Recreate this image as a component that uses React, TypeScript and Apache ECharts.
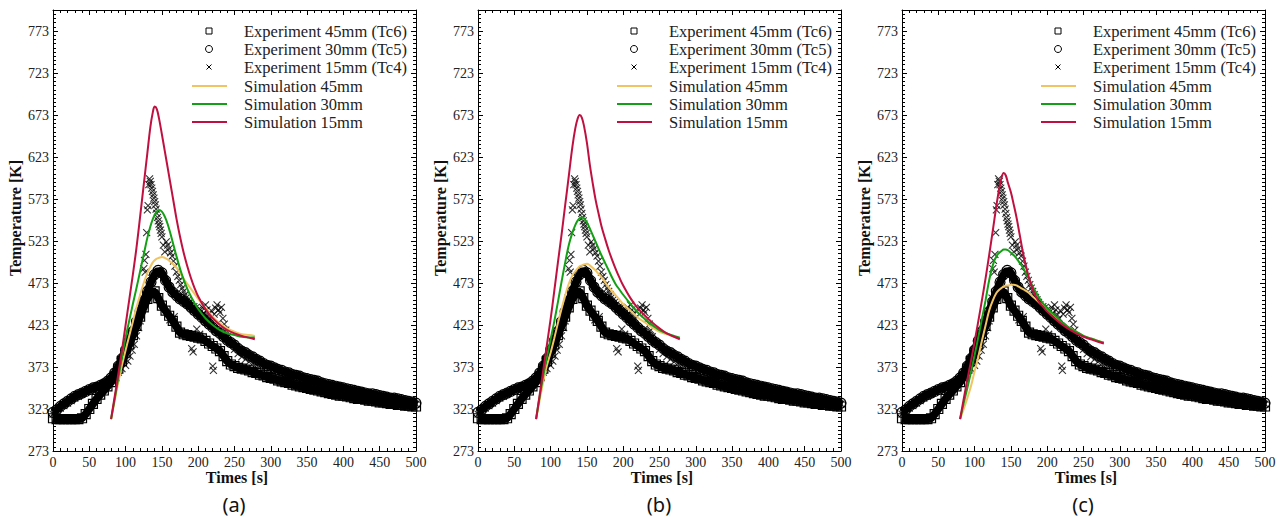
import React, { useEffect, useRef } from "react";
import * as echarts from "echarts";

// ---------- data (temperatures in K, times in s) ----------
const expTime = [0,5,10,15,20,25,30,35,40,45,50,55,60,65,70,75,80,85,90,95,100,105,110,115,120,125,130,135,140,145,150,155,160,165,170,175,180,185,190,195,200,205,210,215,220,225,230,235,240,245,250,255,260,265,270,275,280,285,290,295,300,305,310,315,320,325,330,335,340,345,350,355,360,365,370,375,380,385,390,395,400,405,410,415,420,425,430,435,440,445,450,455,460,465,470,475,480,485,490,495,500];

const tc6 = [312,311,311,311,311,311,311,311,312,317,
  323,329,335,340,345,350,355,362,371,380,
  390,400,411,422,433,444,454,461,463,455,
  446,440,434,428,421,414,412,411,410,409,
  408,407,404,401,398,395,392,386,380,376,
  374,372,371,370,369,367,366,364,363,361,
  360,359,357,356,355,354,352,351,350,349,
  348,347,346,345,344,343,342,341,340,339,
  339,338,337,336,335,335,334,333,333,332,
  331,331,330,329,329,328,328,327,327,326,
  326];

const tc5 = [319,322,326,329,332,335,338,340,342,344,
  346,348,349,351,353,356,360,366,374,383,
  393,404,415,427,439,451,463,474,483,488,
  485,476,468,462,458,454,451,448,444,440,
  436,432,428,424,420,416,413,409,405,402,
  399,395,392,390,387,385,382,380,377,375,
  374,372,370,369,367,366,364,363,362,360,
  359,358,357,356,354,353,352,351,350,349,
  348,347,346,345,344,343,342,341,341,340,
  339,338,337,336,336,335,334,333,332,331,
  330];

const tc4Time = [0,5,10,15,20,25,30,35,40,45,
  50,55,60,65,70,75,80,85,90,95,
  100,103,106,109,112,115,118,120,122,124,
  125,126,127,128,129,130,131,132,133,134,
  135,136,137,138,139,140,141,142,143,144,
  145,146,147,148,149,150,152,154,156,158,
  160,161,162,164,166,167,168,170,172,174,
  176,178,180,182,184,186,188,190,191,193,
  194,196,198,200,202,204,206,208,210,212,
  214,216,218,220,221,222,224,226,228,230,
  232,234,236,238,240,245,250,255,260,265,
  270,275,280,290,300,310,320,330,340,350,
  360,370,380,390,400,410,420,430,440,450,
  460,470,480,490,500];

const tc4 = [317,320,324,327,330,333,336,338,341,343,
  345,347,348,350,352,355,358,362,367,371,
  375,380,386,393,400,410,420,428,440,455,
  490,500,486,507,533,560,565,590,597,594,
  590,586,582,578,574,570,566,561,556,551,
  547,543,540,536,532,528,518,510,522,518,
  514,429,509,505,499,433,493,486,481,476,
  471,467,463,459,456,453,450,447,395,391,
  445,443,418,441,412,439,444,437,447,441,
  435,430,440,374,369,436,443,447,441,438,
  444,431,424,417,409,401,394,389,385,382,
  379,377,375,371,368,365,362,360,357,355,
  352,350,348,346,344,342,341,339,338,336,
  335,334,333,331,329];

const simTime = [80,85,90,95,100,105,110,115,120,125,130,134,137,140,143,146,150,154,158,162,166,170,175,180,185,190,195,200,210,220,230,240,250,260,270,278];

const sim15a = [311,338,365,393,423,453,483,515,552,590,628,658,674,683,680,669,650,630,610,590,570,550,528,509,493,479,467,457,442,431,423,417,413,410,408,406];
const sim30a = [311,335,360,385,408,428,448,467,487,507,527,540,548,554,558,560,558,552,543,531,518,505,490,477,466,457,449,442,431,423,417,413,411,409,408,408];
const sim45a = [311,333,355,375,393,410,427,444,459,473,485,492,497,500,502,503,504,503,501,498,495,491,485,478,472,466,460,454,443,433,425,419,415,412,411,410];

const sim15b = [311,340,370,400,430,463,497,530,565,600,635,657,668,673,670,660,640,614,592,572,556,541,526,512,500,489,479,470,455,443,434,426,419,413,409,406];
const sim30b = [311,338,363,385,406,427,450,474,497,518,533,542,547,550,551,550,545,538,530,522,514,506,497,488,479,471,465,459,448,438,430,423,417,413,410,408];
const sim45b = [311,334,356,375,390,407,425,442,458,472,482,487,490,493,494,495,496,494,491,488,484,480,474,468,463,458,453,448,440,432,426,420,415,412,409,407];

const sim15c = [311,335,358,380,403,427,452,478,506,535,565,586,598,604,601,592,581,566,550,531,512,496,479,466,456,449,444,439,431,424,418,413,409,406,403,401];
const sim30c = [311,330,348,367,387,408,430,452,476,494,505,509,511,513,513,512,509,506,502,497,492,486,478,469,461,454,448,443,435,427,420,415,410,407,404,402];
const sim45c = [311,323,336,350,368,385,404,422,440,452,461,465,467,469,470,470,471,471,470,468,466,464,461,457,453,449,445,441,434,426,420,415,410,407,404,402];

const expNames = ["Experiment 45mm (Tc6)", "Experiment 30mm (Tc5)", "Experiment 15mm (Tc4)"];
const simNames = ["Simulation 45mm", "Simulation 30mm", "Simulation 15mm"];
const panelLabels = ["(a)", "(b)", "(c)"];
const xAxisTitle = "Times [s]";
const yAxisTitle = "Temperature [K]";

const simPanels = [
  [sim45a, sim30a, sim15a],
  [sim45b, sim30b, sim15b],
  [sim45c, sim30c, sim15c],
];

// ---------- layout / style ----------
const BASE = 273; // y axis starts at 273 K
const Y_SPAN = 525;
const PANEL_LEFTS = [53, 478, 902];
const GRID_TOP = 10;
const GRID_W = 363;
const GRID_H = 441;
const simColors = ["#F0C462", "#14A014", "#C0103F"];
const SERIF = "Liberation Serif, Times New Roman, serif";
const SANS = "Noto Sans, Open Sans, sans-serif";
const XMARK = "path://M0,0L10,10M10,0L0,10";

function buildOption() {
  const grid: any[] = [];
  const xAxis: any[] = [];
  const yAxis: any[] = [];
  const series: any[] = [];
  const graphic: any[] = [];

  PANEL_LEFTS.forEach((L, i) => {
    grid.push({ left: L, top: GRID_TOP, width: GRID_W, height: GRID_H });
    ["bottom", "top"].forEach((pos) => {
      xAxis.push({
        type: "value", gridIndex: i, position: pos, min: 0, max: 500, interval: 50,
        axisLine: { show: true, onZero: false, lineStyle: { color: "#000", width: 1 } },
        axisTick: { show: true, inside: true, length: 5, lineStyle: { color: "#000", width: 1 } },
        minorTick: { show: true, splitNumber: 5, length: 3, lineStyle: { color: "#000", width: 1 } },
        splitLine: { show: false },
        minorSplitLine: { show: false },
        axisLabel: { show: pos === "bottom", fontFamily: SERIF, fontSize: 14, color: "#222", margin: 4 },
      });
    });
    ["left", "right"].forEach((pos) => {
      yAxis.push({
        type: "value", gridIndex: i, position: pos, min: 0, max: Y_SPAN, interval: 5,
        axisLine: { show: true, onZero: false, lineStyle: { color: "#000", width: 1 } },
        axisTick: { show: true, inside: true, length: 3, lineStyle: { color: "#000", width: 1 } },
        axisLabel: { show: false },
        splitLine: { show: false },
      });
      yAxis.push({
        type: "value", gridIndex: i, position: pos, min: 0, max: Y_SPAN, interval: 50,
        axisLine: { show: false, onZero: false },
        axisTick: { show: true, inside: true, length: 5, lineStyle: { color: "#000", width: 1 } },
        axisLabel: {
          show: pos === "left", showMaxLabel: false, fontFamily: SERIF, fontSize: 14,
          color: "#222", margin: 4, formatter: (v: number) => String(v + BASE),
        },
        splitLine: { show: false },
      });
    });

    const xi = 2 * i;
    const yi = 4 * i + 1;
    const hollow = { color: "rgba(0,0,0,0)", borderColor: "#000", borderWidth: 1.2 };

    series.push({
      type: "line", name: expNames[0], xAxisIndex: xi, yAxisIndex: yi, silent: true,
      data: expTime.map((t, k) => [t, tc6[k] - BASE]),
      symbol: "rect", symbolSize: 9, showSymbol: true,
      lineStyle: { color: "#000", width: 8 }, itemStyle: hollow, z: 2,
    });
    series.push({
      type: "line", name: expNames[1], xAxisIndex: xi, yAxisIndex: yi, silent: true,
      data: expTime.map((t, k) => [t, tc5[k] - BASE]),
      symbol: "circle", symbolSize: 10, showSymbol: true,
      lineStyle: { color: "#000", width: 8 }, itemStyle: hollow, z: 2,
    });
    series.push({
      type: "scatter", name: expNames[2], xAxisIndex: xi, yAxisIndex: yi, silent: true,
      data: tc4Time.map((t, k) => [t, tc4[k] - BASE]),
      symbol: XMARK, symbolSize: 7,
      itemStyle: { color: "rgba(0,0,0,0)", borderColor: "#000", borderWidth: 1.1 }, z: 3,
    });
    simPanels[i].forEach((vals, s) => {
      series.push({
        type: "line", name: simNames[s], xAxisIndex: xi, yAxisIndex: yi, silent: true,
        data: simTime.map((t, k) => [t, vals[k] - BASE]),
        showSymbol: false, smooth: 0.35,
        lineStyle: { color: simColors[s], width: 2 }, z: 4,
      });
    });

    // legend (drawn as graphic)
    const mx = L + 156;
    const rows = [31, 49, 67, 86, 104, 122];
    graphic.push({ type: "rect", shape: { x: mx - 3, y: rows[0] - 3, width: 6, height: 6 }, style: { fill: "none", stroke: "#000", lineWidth: 1 } });
    graphic.push({ type: "circle", shape: { cx: mx, cy: rows[1], r: 3.5 }, style: { fill: "none", stroke: "#000", lineWidth: 1 } });
    graphic.push({ type: "line", shape: { x1: mx - 2.5, y1: rows[2] - 2.5, x2: mx + 2.5, y2: rows[2] + 2.5 }, style: { stroke: "#000", lineWidth: 1 } });
    graphic.push({ type: "line", shape: { x1: mx + 2.5, y1: rows[2] - 2.5, x2: mx - 2.5, y2: rows[2] + 2.5 }, style: { stroke: "#000", lineWidth: 1 } });
    simNames.forEach((_, s) => {
      graphic.push({ type: "line", shape: { x1: L + 139, y1: rows[3 + s], x2: L + 174, y2: rows[3 + s] }, style: { stroke: simColors[s], lineWidth: 2 } });
    });
    [...expNames, ...simNames].forEach((nm, r) => {
      graphic.push({
        type: "text", x: L + 191, y: rows[r],
        style: { text: nm, fontFamily: SERIF, fontSize: 16.5, fill: "#222", align: "left", verticalAlign: "middle" },
      });
    });
    // axis titles
    graphic.push({
      type: "text", x: L - 38, y: 218, rotation: Math.PI / 2,
      style: { text: yAxisTitle, fontFamily: SERIF, fontSize: 16, fontWeight: "bold", fill: "#111", align: "center", verticalAlign: "middle" },
    });
    graphic.push({
      type: "text", x: L + 184, y: 477,
      style: { text: xAxisTitle, fontFamily: SERIF, fontSize: 16, fontWeight: "bold", fill: "#111", align: "center", verticalAlign: "middle" },
    });
    graphic.push({
      type: "text", x: L + 181, y: 504,
      style: { text: panelLabels[i], fontFamily: SANS, fontSize: 20, fill: "#111", align: "center", verticalAlign: "middle" },
    });
  });

  return {
    animation: false,
    backgroundColor: "#fff",
    grid, xAxis, yAxis, series, graphic,
  };
}

export default function App() {
  const ref = useRef<HTMLDivElement>(null);
  useEffect(() => {
    if (!ref.current) return;
    const chart = echarts.init(ref.current, undefined, { renderer: "svg" });
    chart.setOption(buildOption() as any);
    return () => chart.dispose();
  }, []);
  return (
    <div
      ref={ref}
      style={{ position: "absolute", left: 0, top: 0, width: 1282, height: 517, background: "#fff" }}
    />
  );
}
